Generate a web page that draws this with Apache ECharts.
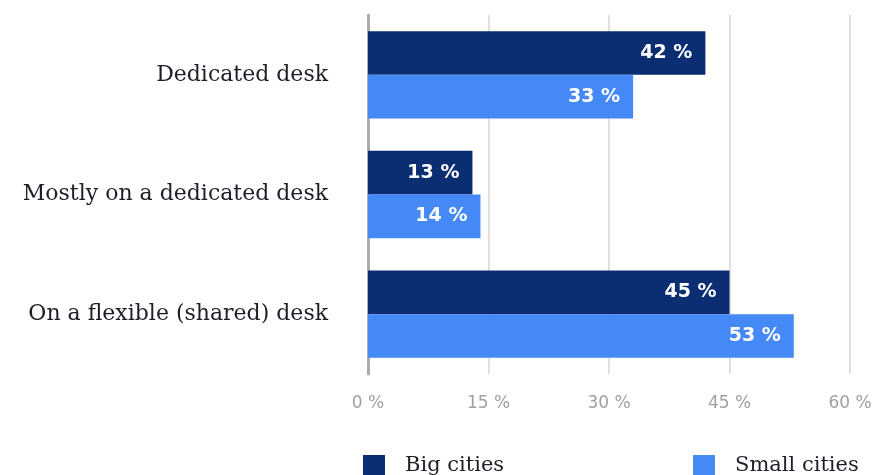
<!DOCTYPE html>
<html><head><meta charset="utf-8">
<script src="https://cdn.jsdelivr.net/npm/echarts@6/dist/echarts.min.js"></script>
<style>html,body{margin:0;padding:0;background:#fff}#c{width:880px;height:475px}</style>
</head><body><div id="c"></div>
<script>
var categories = ["Dedicated desk", "Mostly on a dedicated desk", "On a flexible (shared) desk"];
var bigCities = [42, 13, 45];
var smallCities = [33, 14, 53];
var xTicks = [0, 15, 30, 45, 60];

var chart = echarts.init(document.getElementById('c'));
var lbl = {show: true, position: 'insideRight', distance: 13, color: '#fff', fontFamily: 'DejaVu Sans', fontWeight: 'bold', fontSize: 19, formatter: function(p){return p.value + ' %';}};
var legendText = {fontFamily: 'DejaVu Serif', fontSize: 21, color: '#1e1e28', padding: [0,0,0,15]};
chart.setOption({
  animation: false,
  grid: {left: 368, right: 30, top: 15, bottom: 101},
  legend: [
    {data: ['Big cities'], left: 363, top: 455, padding: 0, icon: 'rect', itemWidth: 22, itemHeight: 22, itemGap: 0, textStyle: legendText},
    {data: ['Small cities'], left: 693, top: 455, padding: 0, icon: 'rect', itemWidth: 22, itemHeight: 22, itemGap: 0, textStyle: legendText}
  ],
  xAxis: {
    type: 'value', min: xTicks[0], max: xTicks[xTicks.length-1], interval: 15,
    axisLine: {show: false}, axisTick: {show: false},
    splitLine: {show: true, lineStyle: {color: '#e0e0e0', width: 2}},
    axisLabel: {color: '#a0a0a0', fontFamily: 'DejaVu Sans', fontSize: 17, margin: 21, formatter: function(v){return v + ' %';}}
  },
  yAxis: {
    type: 'category', data: categories, inverse: true,
    axisLine: {show: true, lineStyle: {color: '#ababab', width: 3}},
    axisTick: {show: false},
    axisLabel: {color: '#1e1e28', fontFamily: 'DejaVu Serif', fontSize: 22, margin: 40}
  },
  series: [
    {name: 'Big cities', type: 'bar', data: bigCities, itemStyle: {color: '#0b2d72'}, barGap: '0%', barCategoryGap: '27%', label: lbl},
    {name: 'Small cities', type: 'bar', data: smallCities, itemStyle: {color: '#4489f5'}, barGap: '0%', barCategoryGap: '27%', label: lbl}
  ]
});
</script></body></html>
